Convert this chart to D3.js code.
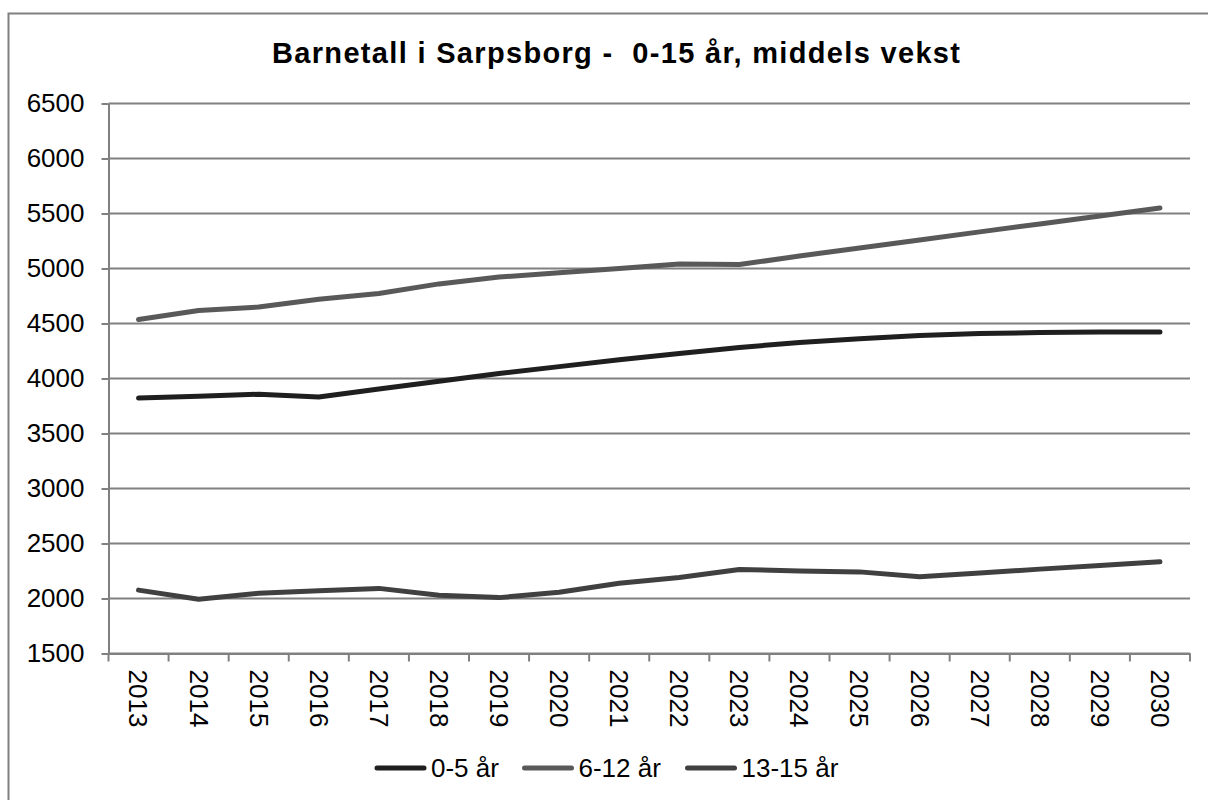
<!DOCTYPE html>
<html lang="no">
<head>
<meta charset="UTF-8">
<title>Barnetall i Sarpsborg</title>
<script src="https://d3js.org/d3.v7.min.js"></script>
<style>
    body { margin: 0; background: #fff; }
    svg { display: block; font-family: "Liberation Sans", Arial, sans-serif; }
    .axis path, .axis line { stroke: #808080; stroke-width: 2px; }
    .axis text { font-size: 26px; fill: #000; }
</style>
</head>
<body>
<svg id="chart" width="1208" height="800"></svg>
<script>
    // data
    const years = ["2013","2014","2015","2016","2017","2018","2019","2020","2021",
                   "2022","2023","2024","2025","2026","2027","2028","2029","2030"];
    const age0to5 = [3822, 3838, 3857, 3832, 3905, 3975, 4045, 4108, 4170,
                     4228, 4282, 4328, 4362, 4392, 4408, 4418, 4422, 4422];
    const age6to12 = [4536, 4618, 4650, 4720, 4772, 4860, 4922, 4962, 5000,
                      5040, 5036, 5113, 5187, 5260, 5333, 5405, 5478, 5550];
    const age13to15 = [2076, 1994, 2048, 2070, 2092, 2030, 2008, 2056, 2138,
                       2190, 2264, 2250, 2242, 2197, 2232, 2267, 2300, 2333];
    const yTicks = [1500, 2000, 2500, 3000, 3500, 4000, 4500, 5000, 5500, 6000, 6500];

    const series = [
        {name: "0-5 år", values: age0to5, color: "#1f1f1f"},
        {name: "6-12 år", values: age6to12, color: "#595959"},
        {name: "13-15 år", values: age13to15, color: "#404040"}
    ];

    const svg = d3.select("#chart");

    // outer frame (chart area border)
    svg.append("path")
        .attr("d", "M8.5,810 L8.5,13.5 L1215,13.5")
        .attr("fill", "none")
        .attr("stroke", "#808080")
        .attr("stroke-width", 2);

    const plotLeft = 108.5, plotRight = 1190, plotTop = 103.5, plotBottom = 653.5;

    const x = d3.scaleBand().domain(years).range([plotLeft, plotRight]);
    const y = d3.scaleLinear().domain([1500, 6500]).range([plotBottom, plotTop]);

    // gridlines
    svg.append("g")
        .selectAll("line")
        .data(yTicks)
        .enter()
        .append("line")
        .attr("x1", plotLeft).attr("x2", plotRight)
        .attr("y1", d => y(d)).attr("y2", d => y(d))
        .attr("stroke", "#808080")
        .attr("stroke-width", 2);

    // y axis
    svg.append("g").attr("class", "axis")
        .attr("transform", `translate(${plotLeft},0)`)
        .call(d3.axisLeft(y).tickValues(yTicks).tickSize(7).tickSizeOuter(0).tickPadding(17).tickFormat(d3.format("d")));

    // x axis, ticks between categories
    const xAxis = svg.append("g").attr("class", "axis")
        .attr("transform", `translate(0,${plotBottom})`)
        .call(d3.axisBottom(x).tickSize(0).tickSizeOuter(0));
    xAxis.selectAll(".tick text")
        .attr("transform", "rotate(90)")
        .attr("text-anchor", "start")
        .attr("dy", "0.35em")
        .attr("x", 16)
        .attr("y", 0);
    xAxis.selectAll(".tick line").remove();
    xAxis.append("g")
        .selectAll("line")
        .data(years.concat(["end"]))
        .enter()
        .append("line")
        .attr("x1", (d, i) => plotLeft + i * x.step())
        .attr("x2", (d, i) => plotLeft + i * x.step())
        .attr("y1", 0).attr("y2", 8)
        .attr("stroke", "#808080")
        .attr("stroke-width", 2);

    // lines
    const line = d3.line()
        .x((d, i) => x(years[i]) + x.bandwidth() / 2)
        .y(d => y(d));

    svg.append("g")
        .selectAll("path")
        .data(series)
        .enter()
        .append("path")
        .attr("d", d => line(d.values))
        .attr("fill", "none")
        .attr("stroke", d => d.color)
        .attr("stroke-width", 5)
        .attr("stroke-linecap", "round")
        .attr("stroke-linejoin", "round");

    // title
    svg.append("text")
        .attr("x", 272)
        .attr("y", 63)
        .attr("textLength", 688)
        .attr("lengthAdjust", "spacing")
        .style("white-space", "pre")
        .style("font-size", "29px")
        .style("font-weight", "bold")
        .text("Barnetall i Sarpsborg -  0-15 år, middels vekst");

    // legend
    const legendX = [377, 524.5, 687.5];
    const legend = svg.append("g")
        .selectAll("g")
        .data(series)
        .enter()
        .append("g")
        .attr("transform", (d, i) => `translate(${legendX[i]},768)`);
    legend.append("line")
        .attr("x1", 0).attr("x2", 47)
        .attr("stroke", d => d.color)
        .attr("stroke-width", 5)
        .attr("stroke-linecap", "round");
    legend.append("text")
        .attr("x", 54)
        .attr("dy", "0.35em")
        .style("font-size", "26px")
        .text(d => d.name);
</script>
</body>
</html>
